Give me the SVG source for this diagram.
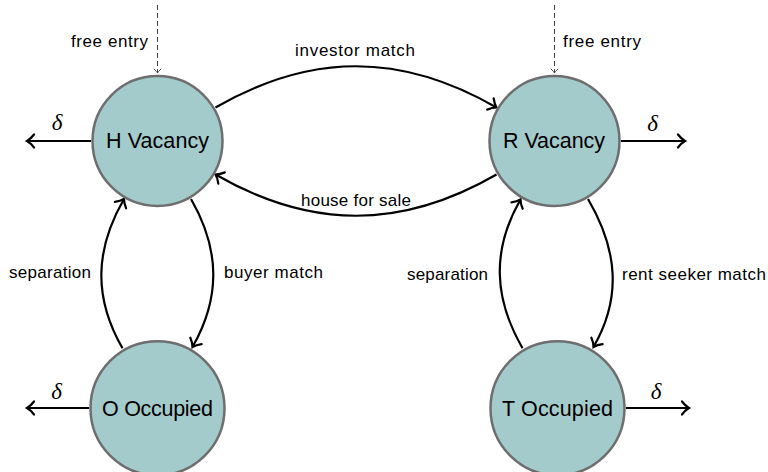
<svg xmlns="http://www.w3.org/2000/svg" width="768" height="472" viewBox="0 0 768 472">
  <defs>
    <marker id="tip" markerUnits="userSpaceOnUse" orient="auto" refX="0" refY="0" markerWidth="20" markerHeight="20" overflow="visible">
      <path d="M-7,-6.5 C-4.5,-3.2 -1.6,-0.9 0,0 C-1.6,0.9 -4.5,3.2 -7,6.5" fill="none" stroke="#000" stroke-width="2.2" stroke-linecap="round"/>
    </marker>
    <marker id="tipsmall" markerUnits="userSpaceOnUse" orient="auto" refX="0" refY="0" markerWidth="10" markerHeight="10" overflow="visible">
      <path d="M-4,-3.5 C-2.2,-1.6 -0.9,-0.4 0,0 C-0.9,0.4 -2.2,1.6 -4,3.5" fill="none" stroke="#444" stroke-width="1" stroke-linecap="round"/>
    </marker>
  </defs>
  <style>
    .state { fill: #a4cbcc; stroke: #6e6e6e; stroke-width: 2.5; }
    .name { font-family: "Liberation Sans", Arial, sans-serif; font-size: 21.5px; fill: #000; }
    .lbl { font-family: "Liberation Sans", Arial, sans-serif; font-size: 17px; fill: #000; }
    .rate { font-family: "Liberation Serif", "Times New Roman", serif; font-style: italic; font-size: 23px; fill: #000; text-anchor: middle; }
    .edge { fill: none; stroke: #000; stroke-width: 2.2; marker-end: url(#tip); }
    .entry { fill: none; stroke: #444; stroke-width: 1; stroke-dasharray: 5 3; marker-end: url(#tipsmall); }
  </style>

  <!-- transitions -->
  <g id="connectors">
    <!-- entry flows -->
    <path class="entry" d="M157.5,5 L157.5,73"/>
    <path class="entry" d="M554.5,5 L554.5,73"/>
    <!-- exits at rate delta -->
    <path class="edge" d="M91,141 L27,141"/>
    <path class="edge" d="M621,141 L685,141"/>
    <path class="edge" d="M89,408 L27,408"/>
    <path class="edge" d="M626,408 L689,408"/>
    <!-- vacancy to vacancy -->
    <path class="edge" d="M215.5,107.5 C310.8,52.5 401.2,52.5 496.5,107.5"/>
    <path class="edge" d="M496.5,174.5 C401.2,229.5 310.8,229.5 215.5,174.5"/>
    <!-- owner side -->
    <path class="edge" d="M191,199 C220.2,249.6 220.7,297.6 192.5,347"/>
    <path class="edge" d="M122.5,348.2 C93.3,297.6 94.8,249.6 124,199"/>
    <!-- tenant side -->
    <path class="edge" d="M588,199 C617.7,249.6 622,297.6 593.5,347"/>
    <path class="edge" d="M522.5,348.2 C493.3,297.6 491.8,249.6 520.5,199.5"/>

    <text class="lbl" x="71" y="47" textLength="77" lengthAdjust="spacing">free entry</text>
    <text class="lbl" x="563" y="47" textLength="78" lengthAdjust="spacing">free entry</text>
    <text class="lbl" x="295" y="56" textLength="120" lengthAdjust="spacing">investor match</text>
    <text class="lbl" x="301" y="206" textLength="110" lengthAdjust="spacing">house for sale</text>
    <text class="lbl" x="9" y="278" textLength="82" lengthAdjust="spacing">separation</text>
    <text class="lbl" x="224" y="278" textLength="99" lengthAdjust="spacing">buyer match</text>
    <text class="lbl" x="407" y="280" textLength="81" lengthAdjust="spacing">separation</text>
    <text class="lbl" x="622" y="280" textLength="144" lengthAdjust="spacing">rent seeker match</text>

    <text class="rate" x="57" y="130">δ</text>
    <text class="rate" x="652.5" y="131">δ</text>
    <text class="rate" x="56.5" y="399">δ</text>
    <text class="rate" x="656" y="399">δ</text>
  </g>

  <g id="h-vacancy">
    <circle class="state" cx="157.5" cy="141" r="65"/>
    <text class="name" x="106" y="147.5" textLength="103" lengthAdjust="spacing">H Vacancy</text>
  </g>
  <g id="r-vacancy">
    <circle class="state" cx="554.5" cy="141" r="65"/>
    <text class="name" x="503" y="147.5" textLength="102" lengthAdjust="spacing">R Vacancy</text>
  </g>
  <g id="o-occupied">
    <circle class="state" cx="157.5" cy="408.3" r="67"/>
    <text class="name" x="102" y="415.5" textLength="111" lengthAdjust="spacing">O Occupied</text>
  </g>
  <g id="t-occupied">
    <circle class="state" cx="557.5" cy="408.3" r="67"/>
    <text class="name" x="502" y="415.5" textLength="111" lengthAdjust="spacing">T Occupied</text>
  </g>
</svg>
